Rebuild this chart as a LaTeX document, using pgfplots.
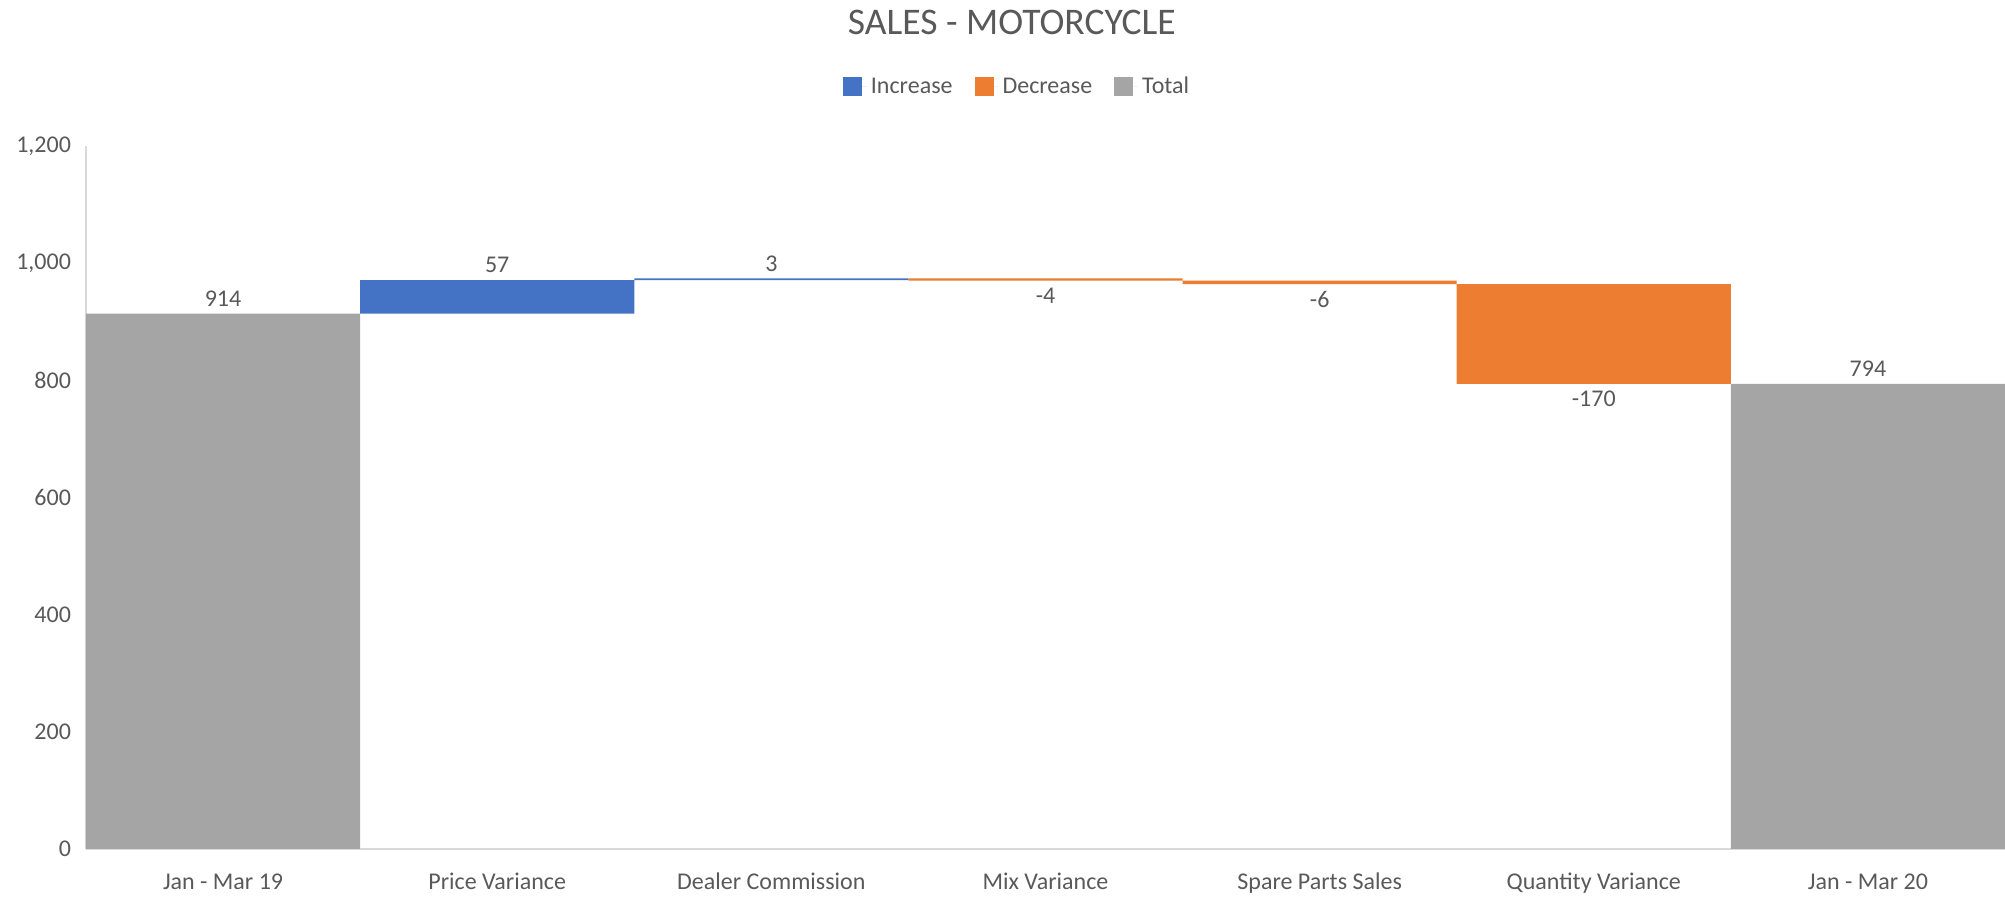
\documentclass[border=0pt]{standalone}
\usepackage{fontspec}
\setmainfont{Carlito}
\usepackage{pgfplots}
\pgfplotsset{compat=1.18}
\definecolor{incblue}{HTML}{4472C4}
\definecolor{decorange}{HTML}{ED7D31}
\definecolor{totgray}{HTML}{A5A5A5}
\definecolor{txtgray}{HTML}{595959}
\definecolor{axgray}{HTML}{D9D9D9}
\begin{document}
\begin{tikzpicture}
\pgfplotsset{
  wfbase/.style={
    scale only axis, width=959.5pt, height=351.5pt,
    xmin=-0.5, xmax=6.5, ymin=0, ymax=1200,
  }
}
\begin{axis}[wfbase,
  ybar stacked, bar width=1,
  axis lines*=left,
  axis line style={draw=axgray, line width=0.8pt},
  xtick={0,...,6},
  xticklabels={Jan - Mar 19, Price Variance, Dealer Commission, Mix Variance, Spare Parts Sales, Quantity Variance, Jan - Mar 20},
  ytick={0,200,...,1200},
  major tick length=0pt,
  tick style={draw=none},
  /pgf/number format/assume math mode=true,
  /pgf/number format/1000 sep={,},
  ticklabel style={font=\fontsize{12}{14}\selectfont, text=txtgray},
  yticklabel style={xshift=-4pt},
  xticklabel style={anchor=base, yshift=-20.35pt},
  title={SALES - MOTORCYCLE},
  title style={font=\fontsize{18.8}{22}\selectfont, text=txtgray, at={(0.4825,1)}, anchor=center, yshift=56pt},
  legend style={at={(0.4857,1)}, anchor=center, yshift=29.5pt, draw=none, fill=none, legend columns=-1, font=\fontsize{12}{14}\selectfont, text=txtgray, /tikz/every even column/.append style={column sep=9pt}},
  legend image code/.code={\fill[#1] (0pt,-4.75pt) rectangle (9.5pt,4.75pt); \path (0pt,0pt) -- (12pt,0pt);},
]
\addplot[fill=none, draw=none, forget plot] coordinates {(0,0) (1,914) (2,971) (3,970) (4,964) (5,794) (6,0)};
\addplot[fill=incblue, draw=none] coordinates {(0,0) (1,57) (2,3) (3,0) (4,0) (5,0) (6,0)};
\addplot[fill=decorange, draw=none] coordinates {(0,0) (1,0) (2,0) (3,4) (4,6) (5,170) (6,0)};
\addplot[fill=totgray, draw=none] coordinates {(0,914) (1,0) (2,0) (3,0) (4,0) (5,0) (6,794)};
\legend{Increase, Decrease, Total}
\end{axis}
\begin{axis}[wfbase, hide axis, clip=false]
\addplot[draw=none, mark=none, nodes near coords, point meta=explicit symbolic,
  every node near coord/.append style={anchor=south, font=\fontsize{12}{14}\selectfont, text=txtgray}]
  coordinates {(0,914)[914] (1,971)[57] (2,974)[3] (6,794)[794]};
\addplot[draw=none, mark=none, nodes near coords, point meta=explicit symbolic,
  every node near coord/.append style={anchor=north, font=\fontsize{12}{14}\selectfont, text=txtgray}]
  coordinates {(3,970)[-4] (4,964)[-6] (5,794)[-170]};
\end{axis}
\pgfresetboundingbox
\path[use as bounding box] (-43pt,-24.5pt) rectangle (959.5pt,424.5pt);
\end{tikzpicture}
\end{document}
